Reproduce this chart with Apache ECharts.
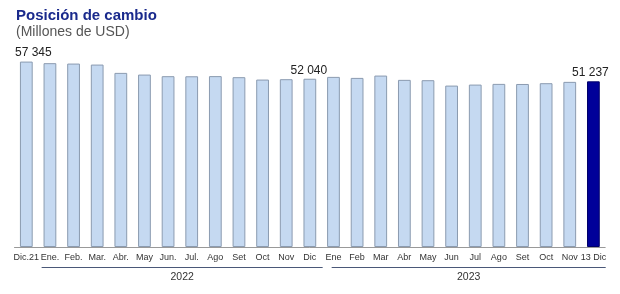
<!DOCTYPE html>
<html>
<head>
<meta charset="utf-8">
<script src="https://cdn.jsdelivr.net/npm/echarts@6/dist/echarts.min.js"></script>
<style>html,body{margin:0;padding:0;background:#fff}#c{width:620px;height:294px}</style>
</head>
<body>
<div id="c"></div>
<script>
var categories = ['Dic.21','Ene.','Feb.','Mar.','Abr.','May','Jun.','Jul.','Ago','Set','Oct','Nov','Dic',
  'Ene','Feb','Mar','Abr','May','Jun','Jul','Ago','Set','Oct','Nov','13 Dic'];
var values = [57345,56855,56730,56420,53850,53330,52830,52800,52850,52520,51780,51900,52040,
  52615,52300,53020,51690,51590,49920,50230,50450,50420,50660,51070,51237];
var labelledIdx = [0, 12, 24];
var labelTexts = ['57 345','52 040','51 237'];
var labelOffsets = [[7,0],[-1,0],[-3,0]];
var yearGroups = [{name:'2022', from:1, to:12, padL:3.5, padR:1}, {name:'2023', from:13, to:24, padL:10, padR:0.5}];

var FONT = 'Liberation Sans, Arial, sans-serif';
var chart = echarts.init(document.getElementById('c'));
var data = values.map(function(v, i){
  var item = {value: v};
  var k = labelledIdx.indexOf(i);
  if (k >= 0) {
    item.label = {show:true, position:'top', distance:2.5, formatter: labelTexts[k], offset: labelOffsets[k],
      color:'#222', fontSize:12, fontFamily:FONT};
  }
  if (i === values.length - 1) {
    item.itemStyle = {color:'#000099', borderColor:'#00006a'};
  }
  return item;
});
chart.setOption({
  animation:false,
  title:[
    {text:'Posición de cambio', left:16, top:8.5, padding:0, textStyle:{fontSize:15, fontWeight:'bold', color:'#1a2a8c', fontFamily:FONT}},
    {text:'(Millones de USD)', left:16, top:25.5, padding:0, textStyle:{fontSize:14, fontWeight:'normal', color:'#555', fontFamily:FONT}}
  ],
  grid:{left:14.5, right:14.8, top:53, bottom:47, containLabel:false},
  xAxis:{type:'category', data:categories,
    axisLine:{lineStyle:{color:'#999', width:1}}, axisTick:{show:false},
    axisLabel:{interval:0, color:'#333', fontSize:9, margin:6, fontFamily:FONT}},
  yAxis:{type:'value', min:0, max:60000, show:false, splitLine:{show:false}},
  series:[{type:'bar', data:data, barCategoryGap:'46%',
    itemStyle:{color:'#c5d9f1', borderColor:'#8b9bb0', borderWidth:1}}]
});

function px(i){ return chart.convertToPixel({xAxisIndex:0}, i); }
var band = px(1) - px(0);
var lineY = 267.5, textY = 277;
var graphics = [];
yearGroups.forEach(function(g){
  var x1 = px(g.from) - band/2 + g.padL;
  var x2 = px(g.to) + band/2 + g.padR;
  graphics.push({type:'line', shape:{x1:x1, y1:lineY, x2:x2, y2:lineY}, style:{stroke:'#4a5878', lineWidth:1.2}, silent:true});
  graphics.push({type:'text', x:(x1+x2)/2, y:textY, style:{text:g.name, fill:'#333', fontSize:10.5, align:'center', verticalAlign:'middle', fontFamily:FONT}, silent:true});
});
chart.setOption({graphic:graphics});
</script>
</body>
</html>
